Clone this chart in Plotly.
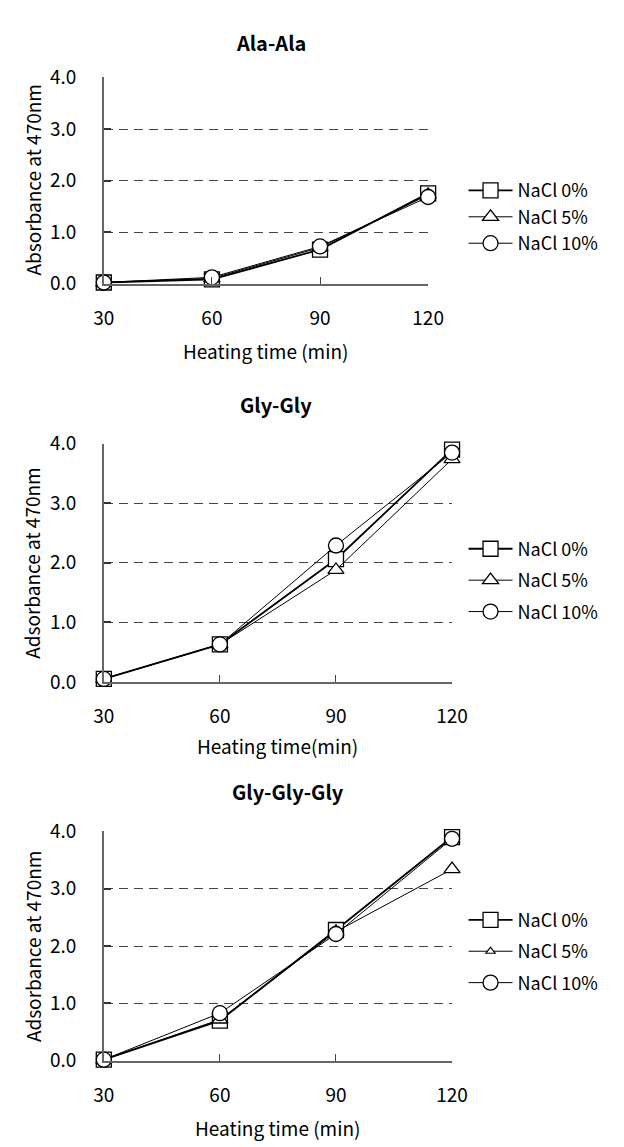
import plotly.graph_objects as go

# ---- data ----
times = [30, 60, 90, 120]
series_names = ["NaCl 0%", "NaCl 5%", "NaCl 10%"]

ala_nacl0 = [0.02, 0.08, 0.66, 1.75]
ala_nacl5 = [0.02, 0.10, 0.70, 1.72]
ala_nacl10 = [0.02, 0.12, 0.72, 1.68]

glygly_nacl0 = [0.05, 0.63, 2.06, 3.90]
glygly_nacl5 = [0.05, 0.63, 1.88, 3.74]
glygly_nacl10 = [0.05, 0.63, 2.29, 3.85]

glyglygly_nacl0 = [0.02, 0.70, 2.28, 3.90]
glyglygly_nacl5 = [0.02, 0.72, 2.25, 3.34]
glyglygly_nacl10 = [0.02, 0.83, 2.21, 3.87]

panel_titles = ["Ala-Ala", "Gly-Gly", "Gly-Gly-Gly"]
y_titles = ["Absorbance at 470nm", "Adsorbance at 470nm", "Adsorbance at 470nm"]
x_titles = ["Heating time (min)", "Heating time(min)", "Heating time (min)"]
y_ticks = [0, 1, 2, 3, 4]
y_ticklabels = ["0.0", "1.0", "2.0", "3.0", "4.0"]

panels = [
    [ala_nacl0, ala_nacl5, ala_nacl10],
    [glygly_nacl0, glygly_nacl5, glygly_nacl10],
    [glyglygly_nacl0, glyglygly_nacl5, glyglygly_nacl10],
]

# ---- layout geometry (pixels) ----
W, H = 624, 1147
FONT = "Noto Sans CJK JP"
x_px = [(97, 436), (97, 461), (97, 461)]
y_px = [(64, 275), (439, 683), (836, 1071)]  # top (4.0), bottom (0.0)
title_xy = [(272, 28), (277, 399), (290, 795)]
xtitle_off = [69, 65, 68]
legend_top = [161, 528, 908]
legend_gap = [0, 5, 5]

symbols = ["square", "triangle-up", "circle"]
msizes = [15, 14, 15]
lwidths = [1.8, 1.0, 1.0]

fig = go.Figure()
layout = dict(
    width=W, height=H, margin=dict(l=0, r=0, t=0, b=0),
    paper_bgcolor="white", plot_bgcolor="white",
    font=dict(family=FONT, size=18, color="black"),
    annotations=[],
)

for p in range(3):
    xa = "x" if p == 0 else f"x{p+1}"
    ya = "y" if p == 0 else f"y{p+1}"
    lg = "legend" if p == 0 else f"legend{p+1}"
    for s in range(3):
        small_legend = (p == 2 and s == 1)
        fig.add_trace(go.Scatter(
            x=times, y=panels[p][s], name=series_names[s],
            xaxis=xa, yaxis=ya, legend=lg, legendgroup=f"p{p}s{s}",
            showlegend=not small_legend, cliponaxis=False,
            mode="lines+markers",
            line=dict(color="black", width=lwidths[s]),
            marker=dict(symbol=symbols[s], size=msizes[s], color="white",
                        line=dict(color="black", width=1.3)),
        ))
        if small_legend:
            # legend entry of this series is drawn with a small triangle in the reference
            fig.add_trace(go.Scatter(
                x=[None], y=[None], name=series_names[s],
                xaxis=xa, yaxis=ya, legend=lg, legendgroup=f"p{p}s{s}",
                mode="lines+markers",
                line=dict(color="black", width=lwidths[s]),
                marker=dict(symbol=symbols[s], size=8, color="white",
                            line=dict(color="black", width=1.2)),
            ))
    x0, x1 = x_px[p]
    yt, yb = y_px[p]
    xkey = "xaxis" if p == 0 else f"xaxis{p+1}"
    ykey = "yaxis" if p == 0 else f"yaxis{p+1}"
    layout[xkey] = dict(
        domain=[x0 / W, x1 / W], range=[30, 120], anchor=ya,
        tickvals=times, ticktext=[str(t) for t in times],
        ticks="inside", ticklen=7, tickcolor="#444", tickwidth=1,
        showline=True, linecolor="#666", linewidth=1.5,
        showgrid=False, zeroline=False,
        ticklabelstandoff=17, tickfont=dict(size=19),
    )
    layout[ykey] = dict(
        domain=[1 - yb / H, 1 - yt / H], range=[0, 4], anchor=xa,
        tickvals=y_ticks, ticktext=y_ticklabels,
        ticks="inside", ticklen=7, tickcolor="#333", tickwidth=1.5,
        showline=True, linecolor="#666", linewidth=1.5,
        showgrid=True, gridcolor="#444", gridwidth=1, griddash="9px,6px",
        zeroline=False, ticklabelstandoff=22, tickfont=dict(size=19),
    )
    layout[lg] = dict(
        x=473 / W, xanchor="left", y=1 - legend_top[p] / H, yanchor="top",
        bgcolor="rgba(0,0,0,0)", font=dict(size=18, family=FONT),
        tracegroupgap=legend_gap[p], itemwidth=44,
    )
    tx, ty = title_xy[p]
    layout["annotations"] += [
        dict(text=f"<b>{panel_titles[p]}</b>", x=tx / W, y=1 - ty / H,
             xref="paper", yref="paper", showarrow=False,
             font=dict(size=20, family=FONT), xanchor="center", yanchor="middle"),
        dict(text=x_titles[p], x=(x0 + x1) / 2 / W, y=1 - (yb + xtitle_off[p]) / H,
             xref="paper", yref="paper", showarrow=False,
             font=dict(size=19, family=FONT), xanchor="center", yanchor="middle"),
        dict(text=y_titles[p], x=22 / W, y=1 - (yt + yb) / 2 / H,
             xref="paper", yref="paper", showarrow=False, textangle=-90,
             font=dict(size=19, family=FONT), xanchor="center", yanchor="middle"),
    ]

fig.update_layout(**layout)
fig.write_html("out.html")
